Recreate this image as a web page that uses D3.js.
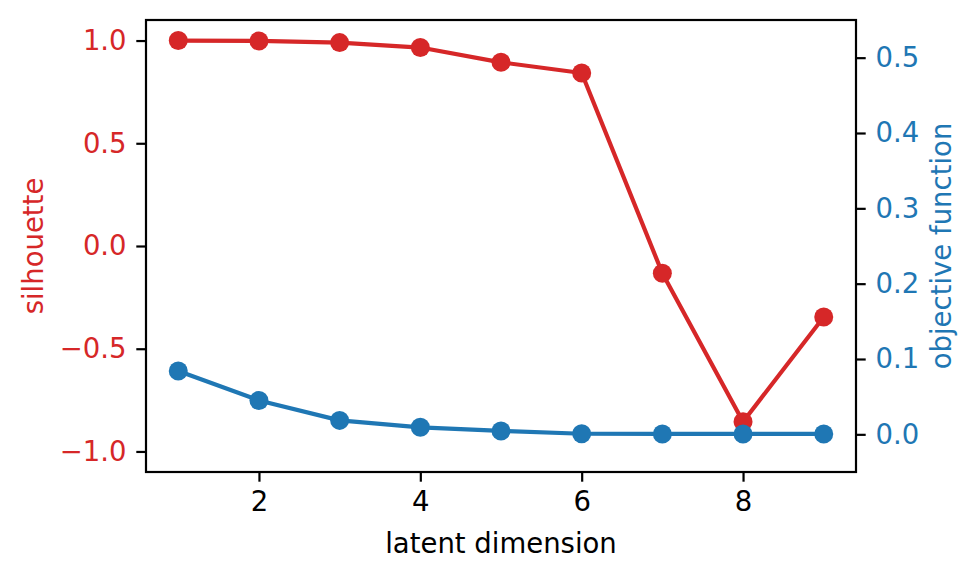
<!DOCTYPE html>
<html>
<head>
<meta charset="utf-8">
<script src="https://cdn.jsdelivr.net/npm/d3@7"></script>
<style>
  body { margin: 0; background: #fff; }
  svg { display: block; font-family: "DejaVu Sans", sans-serif; }
</style>
</head>
<body>
<svg id="chart"></svg>
<script>
'use strict';

var dims = [1, 2, 3, 4, 5, 6, 7, 8, 9];
var silhouette = [1.0, 0.998, 0.99, 0.966, 0.894, 0.842, -0.133, -0.855, -0.346];
var objective = [0.084, 0.045, 0.0185, 0.0093, 0.0045, 0.0008, 0.0005, 0.0005, 0.0005];
var xTicks = [2, 4, 6, 8];
var leftTicks = [-1.0, -0.5, 0.0, 0.5, 1.0];
var rightTicks = [0.0, 0.1, 0.2, 0.3, 0.4, 0.5];

var width = 979,
    height = 580;

var margin = {top: 20, right: 123, bottom: 108, left: 146};
var red = "#d62728", blue = "#1f77b4";
var fontSize = 27.5, tickLen = 9.7, tickPad = 9.7;

var svg = d3.select("svg#chart")
    .attr("width", width)
    .attr("height", height);

var x = d3.scaleLinear().domain([0.6, 9.4]).range([margin.left, width - margin.right]);
var yL = d3.scaleLinear().domain([-1.1, 1.1]).range([height - margin.bottom, margin.top]);
var yR = d3.scaleLinear().domain([-0.05, 0.55]).range([height - margin.bottom, margin.top]);

function styleAxis(g, color) {
  g.select(".domain").remove();
  g.selectAll(".tick line").attr("stroke", "#000").attr("stroke-width", 2.2);
  g.selectAll(".tick text")
    .attr("fill", color)
    .style("font-size", fontSize + "px")
    .style("font-family", "DejaVu Sans, sans-serif");
}

// x axis
svg.append("g")
    .attr("transform", "translate(0," + (height - margin.bottom) + ")")
    .call(d3.axisBottom(x).tickValues(xTicks).tickSize(tickLen).tickPadding(tickPad).tickFormat(d3.format("d")))
    .call(styleAxis, "#000");

// left axis (silhouette)
svg.append("g")
    .attr("transform", "translate(" + margin.left + ",0)")
    .call(d3.axisLeft(yL).tickValues(leftTicks).tickSize(tickLen).tickPadding(tickPad).tickFormat(d3.format(".1f")))
    .call(styleAxis, red);

// right axis (objective)
svg.append("g")
    .attr("transform", "translate(" + (width - margin.right) + ",0)")
    .call(d3.axisRight(yR).tickValues(rightTicks).tickSize(tickLen).tickPadding(tickPad).tickFormat(d3.format(".1f")))
    .call(styleAxis, blue);

// frame
svg.append("rect")
    .attr("x", margin.left)
    .attr("y", margin.top)
    .attr("width", width - margin.left - margin.right)
    .attr("height", height - margin.top - margin.bottom)
    .attr("fill", "none")
    .attr("stroke", "#000")
    .attr("stroke-width", 2.2);

function drawSeries(values, yScale, color) {
  var pts = dims.map(function(d, i) { return [d, values[i]]; });
  var line = d3.line()
      .x(function(d) { return x(d[0]); })
      .y(function(d) { return yScale(d[1]); });

  svg.append("path")
      .datum(pts)
      .attr("d", line)
      .attr("fill", "none")
      .attr("stroke", color)
      .attr("stroke-width", 4.2)
      .attr("stroke-linejoin", "round");

  svg.append("g").selectAll("circle")
      .data(pts)
    .enter().append("circle")
      .attr("cx", function(d) { return x(d[0]); })
      .attr("cy", function(d) { return yScale(d[1]); })
      .attr("r", 9.5)
      .attr("fill", color);
}

drawSeries(silhouette, yL, red);
drawSeries(objective, yR, blue);

// labels
svg.append("text")
    .attr("x", (margin.left + width - margin.right) / 2)
    .attr("y", 553)
    .attr("text-anchor", "middle")
    .style("font-size", fontSize + "px")
    .attr("fill", "#000")
    .text("latent dimension");

svg.append("text")
    .attr("transform", "translate(43," + ((margin.top + height - margin.bottom) / 2) + ") rotate(-90)")
    .attr("text-anchor", "middle")
    .style("font-size", fontSize + "px")
    .attr("fill", red)
    .text("silhouette");

svg.append("text")
    .attr("transform", "translate(951," + ((margin.top + height - margin.bottom) / 2) + ") rotate(-90)")
    .attr("text-anchor", "middle")
    .style("font-size", fontSize + "px")
    .attr("fill", blue)
    .text("objective function");
</script>
</body>
</html>
